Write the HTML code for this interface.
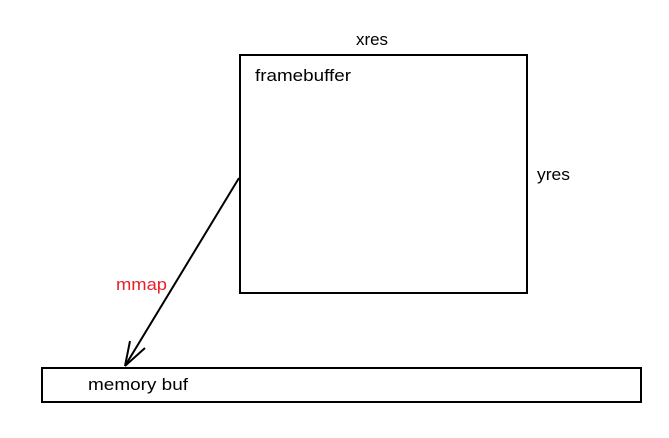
<!DOCTYPE html>
<html><head><style>
html,body{margin:0;padding:0;background:#fff;}
svg{display:block;}
text{font-family:"Liberation Sans",sans-serif;font-size:17px;}
</style></head><body>
<svg width="669" height="438" viewBox="0 0 669 438">
<rect x="240" y="55" width="287" height="238" fill="none" stroke="#000" stroke-width="2"/>
<text x="356" y="45" fill="#000" textLength="32" lengthAdjust="spacingAndGlyphs">xres</text>
<text x="255" y="81" fill="#000" textLength="96" lengthAdjust="spacingAndGlyphs">framebuffer</text>
<text x="537" y="180" fill="#000" textLength="33" lengthAdjust="spacingAndGlyphs">yres</text>
<text x="116" y="290" fill="#e8202a" textLength="51" lengthAdjust="spacingAndGlyphs">mmap</text>
<rect x="42" y="368" width="599" height="34" fill="none" stroke="#000" stroke-width="2"/>
<text x="88" y="390" fill="#000" textLength="100" lengthAdjust="spacingAndGlyphs">memory buf</text>
<g stroke="#000" stroke-width="2" fill="none">
<line x1="239" y1="178" x2="125" y2="366"/>
<line x1="125" y1="366" x2="130" y2="341"/>
<line x1="125" y1="366" x2="145" y2="348"/>
</g>
</svg>
</body></html>
